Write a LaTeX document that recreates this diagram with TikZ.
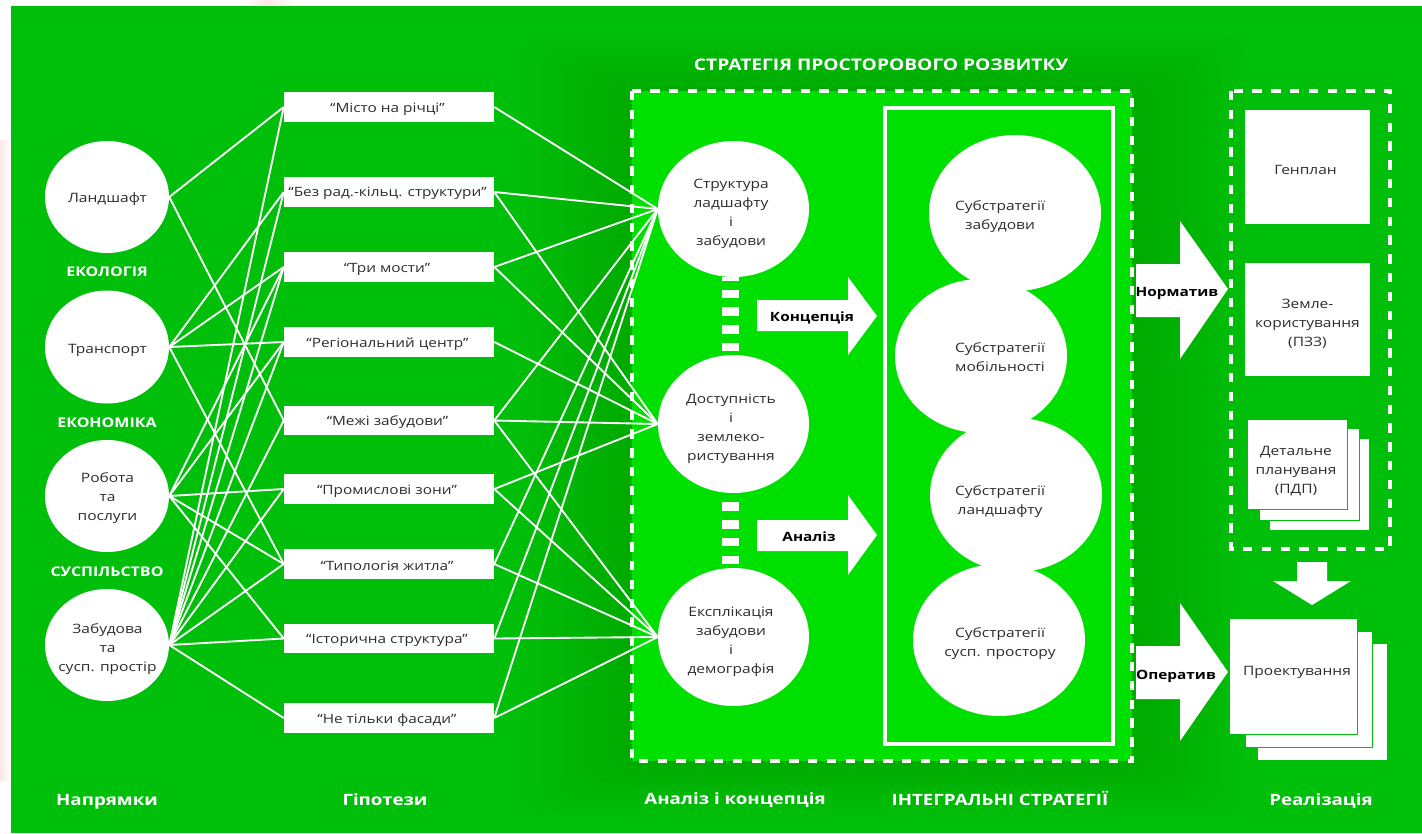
\documentclass[tikz,border=0pt]{standalone}
\usepackage{fontspec}
\setmainfont[FakeStretch=1.2]{Open Sans}
\usetikzlibrary{shapes.geometric}
\definecolor{gdark}{RGB}{0,191,10}
\definecolor{glight}{RGB}{0,224,0}
\definecolor{ink}{RGB}{45,45,45}
\definecolor{palepink}{RGB}{252,232,232}
\tikzset{
  ell/.style 2 args={ellipse,fill=white,draw=none,inner sep=0pt,minimum width=#1*1.5pt,minimum height=#2*1.5pt},
  sheet/.style 2 args={rectangle,fill=white,draw=none,inner sep=0pt,minimum width=#1*0.75pt,minimum height=#2*0.75pt},
  hypo/.style={sheet={210}{29.5}},
  hypotext/.style={text=ink,inner sep=0pt,font=\fontsize{9.6}{12}\selectfont},
  body/.style={text=ink,align=center,inner sep=0pt,font=\fontsize{9.7}{14.2}\selectfont},
  headline/.style={text=white,inner sep=0pt,font=\fontsize{11.7}{14}\selectfont\bfseries},
  sidehead/.style={text=white,inner sep=0pt,font=\fontsize{10}{12}\selectfont\bfseries},
  armlabel/.style={text=black,inner sep=0pt,font=\fontsize{9.6}{12}\selectfont\bfseries},
  link/.style={draw=white,line width=1.4pt},
  frame/.style={draw=white,line width=3.7pt,dash pattern=on 7pt off 7.1pt},
  dots/.style={draw=white,line width=12.75pt,dash pattern=on 6.5pt off 6.8pt},
  block/.style={fill=white,draw=none},
  edged/.style={draw=gdark,line width=0.4pt}
}
\begin{document}
\begin{tikzpicture}[x=0.75pt,y=-0.75pt]
\useasboundingbox (0,0) rectangle (1422,833);
% page behind the green field
\fill[white] (0,0) rectangle (1422,833);
\shade[left color=palepink,right color=white] (0,140) rectangle (11,780);
\shade[left color=white,right color=palepink] (245,0) rectangle (268,6);
\shade[left color=palepink,right color=white] (268,0) rectangle (295,6);
% green field with a soft shadow round the analysis panel
\fill[gdark] (11,6) rectangle (1422,833);
\foreach \i in {0,...,9}
  \fill[black,opacity=0.0075,rounded corners=18pt]
    (520+11*\i,36+5.5*\i) rectangle (1244-11*\i,816-5.5*\i);
% analysis frame
\fill[glight] (632,91) rectangle (1132,761);
\path[frame] (632,91) rectangle (1132,761);
\path[frame] (1231,91) rectangle (1390,549);
\draw[white,line width=3pt] (885,108) rectangle (1113,744);

% left circles
\node[ell={62}{56}] (d1) at (107,197) {};
\node[ell={62}{56.5}] (d2) at (107,347) {};
\node[ell={62}{56}] (d3) at (107,496) {};
\node[ell={62}{56}] (d4) at (107,645) {};
\node[body] (dt1) at (107.5,199) {Ландшафт};
\node[body] (dt2) at (107.5,350) {Транспорт};
\node[body] (dt3) at (107.5,498) {Робота\\та\\послуги};
\node[body] (dt4) at (107.5,649) {Забудова\\та\\сусп. простір};

% hypotheses
\node[hypo] (h1) at (389,107) {};
\node[hypo] (h2) at (389,192) {};
\node[hypo] (h3) at (389,267) {};
\node[hypo] (h4) at (389,342) {};
\node[hypo] (h5) at (389,420.5) {};
\node[hypo] (h6) at (389,489) {};
\node[hypo] (h7) at (389,564) {};
\node[hypo] (h8) at (389,638.5) {};
\node[hypo] (h9) at (389,718) {};
\node[hypotext] (ht1) at (387.5,109) {“Місто на річці”};
\node[hypotext] (ht2) at (387.5,193.5) {“Без рад.-кільц. структури”};
\node[hypotext] (ht3) at (387,269) {“Три мости”};
\node[hypotext] (ht4) at (387.5,344) {“Регіональний центр”};
\node[hypotext] (ht5) at (387.5,422) {“Межі забудови”};
\node[hypotext] (ht6) at (387,491) {“Промислові зони”};
\node[hypotext] (ht7) at (387,566) {“Типологія житла”};
\node[hypotext] (ht8) at (387,640) {“Історична структура”};
\node[hypotext] (ht9) at (387,720) {“Не тільки фасади”};

% analysis circles
\node[ell={75.5}{68}] (a1) at (733.5,209) {};
\node[ell={75.5}{69}] (a2) at (733.5,424) {};
\node[ell={75.5}{69}] (a3) at (733.5,637) {};
\node[body] (at1) at (731,214) {Структура\\ладшафту\\і\\забудови};
\node[body] (at2) at (731,429) {Доступність\\і\\землеко-\\ристування};
\node[body] (at3) at (731,642) {Експлікація\\забудови\\і\\демографія};
\path[dots,dash phase=4.05pt] ([xshift=-2.25pt]a1.south) -- ([xshift=-2.25pt]a2.north);
\path[dots,dash phase=6.5pt] ([xshift=-2.25pt]a2.south) -- ([xshift=-2.25pt]a3.north);

% links
\foreach \from/\to in {d1/h1,d1/h5,
  d2/h2,d2/h3,d2/h4,d2/h7,
  d3/h3,d3/h4,d3/h6,d3/h7,d3/h8,
  d4/h1,d4/h2,d4/h3,d4/h4,d4/h5,d4/h6,d4/h7,d4/h8,d4/h9}
  \path[link] (\from.east) -- (\to.west);
\foreach \from/\to in {h1/a1,h2/a1,h3/a1,h5/a1,h7/a1,h8/a1,h9/a1,
  h2/a2,h3/a2,h4/a2,h5/a2,h6/a2,
  h5/a3,h6/a3,h7/a3,h8/a3,h9/a3}
  \path[link] (\from.east) -- (\to.west);

% substrategies
\node[ell={86}{78}] (s1) at (1015,213) {};
\node[ell={86}{77}] (s2) at (981,356) {};
\node[ell={86}{77}] (s3) at (1016,495) {};
\node[ell={86}{76}] (s4) at (999,640) {};
\node[body] (st1) at (1000,216.5) {Субстратегії\\забудови};
\node[body] (st2) at (1000,357.5) {Субстратегії\\мобільності};
\node[body] (st3) at (1000,501.5) {Субстратегії\\ландшафту};
\node[body] (st4) at (1000,643.5) {Субстратегії\\сусп. простору};

% realisation sheets
\node[sheet={125}{114}] (r1) at (1307.5,167) {};
\node[body] (rt1) at (1305.5,170) {Генплан};
\node[sheet={125}{113}] (r2) at (1307.5,319.5) {};
\node[body] (rt2) at (1307.5,324) {Земле-\\користування\\(ПЗЗ)};
\node[sheet={100}{92},edged] (p3) at (1319,484) {};
\node[sheet={100}{92},edged] (p2) at (1309,474.5) {};
\node[sheet={100}{90},edged] (p1) at (1297,464) {};
\node[body] (pt1) at (1296,471.5) {Детальне\\плануваня\\(ПДП)};
\node[sheet={129}{116}] (q3) at (1322.5,702) {};
\node[sheet={127}{116},edged] (q2) at (1308.5,689) {};
\node[sheet={128}{116},edged] (q1) at (1293,676) {};
\node[body] (qt1) at (1297,672) {Проектування};

% block arrows
\fill[block] (757,300) -- (848,300) -- (848,277) -- (877,316) -- (848,355) -- (848,331) -- (757,331) -- cycle;
\fill[block] (757,520) -- (848,520) -- (848,495) -- (877,535) -- (848,575) -- (848,551) -- (757,551) -- cycle;
\fill[block] (1136,264) -- (1180,264) -- (1180,221) -- (1228,289) -- (1180,359) -- (1180,317) -- (1136,317) -- cycle;
\fill[block] (1136,646) -- (1180,646) -- (1180,603) -- (1228,672) -- (1180,741) -- (1180,699) -- (1136,699) -- cycle;
\fill[block] (1297,562) -- (1327,562) -- (1327,581) -- (1351,581) -- (1312,605) -- (1273,581) -- (1297,581) -- cycle;
\node[armlabel] (l1) at (812,318) {Концепція};
\node[armlabel] (l2) at (809,536.5) {Аналіз};
\node[armlabel] (l3) at (1177,293) {Норматив};
\node[armlabel] (l4) at (1176,676) {Оператив};

% captions
\node[headline,font=\fontsize{12}{14}\selectfont\bfseries] (c0) at (881,64.5) {СТРАТЕГІЯ ПРОСТОРОВОГО РОЗВИТКУ};
\node[sidehead] (c1) at (107,271.5) {ЕКОЛОГІЯ};
\node[sidehead] (c2) at (107,422.5) {ЕКОНОМІКА};
\node[sidehead] (c3) at (107,571.5) {СУСПІЛЬСТВО};
\node[headline] (c4) at (107,801.5) {Напрямки};
\node[headline] (c5) at (385,800) {Гіпотези};
\node[headline] (c6) at (735,800) {Аналіз і концепція};
\node[headline] (c7) at (1000,798) {ІНТЕГРАЛЬНІ СТРАТЕГІЇ};
\node[headline] (c8) at (1321,801) {Реалізація};
\end{tikzpicture}
\end{document}
